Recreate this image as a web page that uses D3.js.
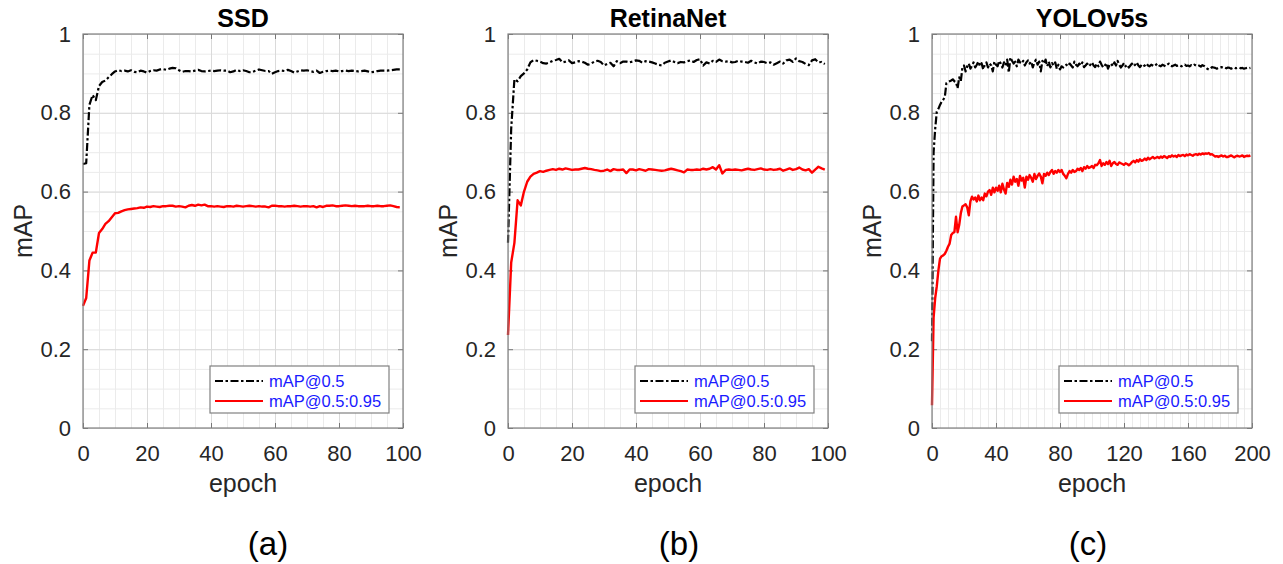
<!DOCTYPE html>
<html>
<head>
<meta charset="utf-8">
<script src="https://cdn.jsdelivr.net/npm/d3@7"></script>
<style>
  body { margin: 0; background: #fff; }
  svg { display: block; font-family: "Liberation Sans", Arial, sans-serif; }
</style>
</head>
<body>
<svg width="1283" height="564"></svg>
<script>
(function (d3) {
  'use strict';

  var svg = d3.select('svg');

  // labels
  var panelTitles = ['SSD', 'RetinaNet', 'YOLOv5s'];
  var panelCaptions = ['(a)', '(b)', '(c)'];
  var seriesNames = ['mAP@0.5', 'mAP@0.5:0.95'];
  var yTicks = [0, 0.2, 0.4, 0.6, 0.8, 1];
  var yTickLabels = ['0', '0.2', '0.4', '0.6', '0.8', '1'];
  var xTicks100 = [0, 20, 40, 60, 80, 100];
  var xTicks200 = [0, 40, 80, 120, 160, 200];

  // SSD, epochs 0..99
  var ssdMap50 = [
    .670,.672,.820,.845,.832,.868,.878,.882,.890,.898,
    .905,.908,.906,.907,.905,.908,.904,.903,.907,.905,
    .902,.906,.908,.907,.910,.911,.909,.912,.914,.913,
    .908,.904,.906,.906,.905,.907,.909,.906,.905,.906,
    .907,.906,.907,.908,.907,.907,.903,.905,.909,.906,
    .908,.906,.903,.904,.907,.910,.908,.906,.906,.899,
    .903,.906,.907,.906,.909,.906,.902,.905,.908,.907,
    .908,.906,.904,.907,.901,.904,.906,.907,.906,.907,
    .905,.906,.907,.906,.907,.906,.905,.906,.907,.905,
    .903,.904,.906,.907,.907,.907,.908,.909,.910,.910
  ];
  var ssdMap5095 = [
    .310,.330,.425,.445,.445,.495,.505,.518,.525,.535,
    .545,.546,.550,.553,.555,.556,.557,.558,.560,.559,
    .562,.561,.563,.562,.561,.563,.563,.564,.564,.562,
    .563,.562,.560,.564,.566,.564,.567,.565,.567,.563,
    .563,.562,.563,.562,.561,.563,.563,.562,.564,.563,
    .562,.563,.564,.563,.562,.563,.562,.562,.560,.564,
    .564,.563,.563,.562,.563,.563,.564,.563,.562,.563,
    .563,.562,.563,.560,.563,.561,.564,.564,.565,.563,
    .563,.564,.565,.564,.563,.564,.563,.563,.563,.564,
    .563,.563,.564,.563,.563,.564,.565,.563,.561,.560
  ];

  // RetinaNet, epochs 0..99
  var retinaMap50 = [
    .470,.760,.885,.880,.893,.900,.910,.928,.934,.932,
    .930,.926,.925,.928,.932,.934,.937,.928,.930,.933,
    .926,.928,.931,.930,.927,.922,.925,.930,.932,.929,
    .920,.924,.927,.918,.931,.926,.930,.930,.928,.930,
    .933,.932,.927,.931,.930,.928,.925,.922,.920,.927,
    .930,.933,.929,.926,.929,.928,.931,.933,.929,.934,
    .936,.920,.928,.925,.932,.929,.935,.931,.930,.931,
    .928,.929,.932,.930,.929,.927,.932,.928,.925,.930,
    .929,.926,.928,.922,.926,.930,.925,.933,.935,.929,
    .938,.931,.929,.924,.921,.933,.936,.928,.929,.924
  ];
  var retinaMap5095 = [
    .236,.420,.470,.578,.565,.600,.625,.638,.645,.648,
    .652,.650,.653,.655,.657,.655,.658,.656,.659,.657,
    .655,.656,.656,.658,.660,.658,.657,.655,.654,.652,
    .653,.656,.652,.657,.655,.655,.656,.647,.656,.656,
    .654,.657,.655,.653,.657,.656,.655,.654,.653,.654,
    .656,.658,.656,.654,.652,.649,.656,.655,.655,.656,
    .655,.658,.656,.658,.662,.656,.667,.646,.655,.656,
    .655,.656,.655,.654,.656,.658,.656,.655,.657,.659,
    .656,.655,.657,.655,.656,.658,.653,.656,.659,.655,
    .657,.661,.656,.654,.657,.648,.656,.663,.659,.656
  ];

  // YOLOv5s, epochs 0..199
  var yoloMap50 = [
    .220,.700,.760,.803,.810,.820,.828,.833,.840,.875,
    .878,.880,.882,.885,.880,.878,.862,.890,.880,.915,
    .920,.905,.918,.925,.912,.920,.928,.915,.922,.930,
    .918,.926,.910,.922,.928,.915,.925,.920,.905,.930,
    .922,.918,.932,.925,.915,.928,.920,.935,.902,.940,
    .932,.925,.930,.918,.935,.928,.925,.932,.920,.928,
    .933,.925,.930,.915,.928,.935,.922,.930,.905,.932,
    .925,.935,.918,.930,.915,.926,.920,.928,.912,.922,
    .910,.918,.915,.920,.922,.918,.925,.920,.915,.930,
    .922,.918,.925,.920,.928,.916,.920,.925,.918,.922,
    .928,.920,.916,.925,.918,.930,.922,.915,.920,.926,
    .912,.922,.925,.918,.928,.920,.932,.922,.915,.920,
    .926,.918,.922,.915,.920,.925,.918,.922,.928,.920,
    .916,.922,.918,.920,.925,.920,.918,.922,.920,.918,
    .922,.925,.920,.918,.922,.920,.918,.922,.925,.920,
    .918,.920,.922,.919,.921,.920,.918,.920,.922,.919,
    .920,.918,.921,.919,.922,.920,.918,.920,.917,.921,
    .919,.916,.912,.910,.913,.916,.915,.914,.912,.914,
    .915,.916,.914,.915,.913,.915,.914,.912,.914,.915,
    .913,.914,.915,.913,.914,.912,.913,.914,.913,.914
  ];
  var yoloMap5095 = [
    .058,.280,.330,.360,.400,.430,.436,.438,.442,.450,
    .460,.468,.490,.495,.497,.536,.497,.515,.545,.562,
    .565,.568,.560,.540,.575,.587,.580,.585,.575,.590,
    .578,.585,.578,.595,.588,.600,.604,.592,.610,.598,
    .610,.602,.615,.598,.620,.605,.595,.622,.612,.630,
    .618,.638,.625,.632,.615,.640,.628,.635,.610,.638,
    .630,.642,.635,.625,.645,.632,.640,.646,.638,.621,
    .645,.640,.648,.642,.650,.655,.645,.652,.648,.655,
    .650,.655,.645,.640,.634,.645,.652,.648,.655,.650,
    .652,.658,.655,.660,.652,.662,.658,.665,.660,.662,
    .665,.660,.668,.667,.672,.680,.665,.672,.668,.675,
    .670,.678,.665,.672,.675,.670,.668,.674,.672,.670,
    .668,.672,.670,.667,.670,.675,.678,.674,.680,.676,
    .682,.678,.680,.684,.680,.686,.682,.685,.688,.684,
    .686,.688,.685,.689,.686,.690,.688,.685,.690,.688,
    .692,.689,.691,.688,.693,.690,.692,.693,.690,.694,
    .692,.695,.693,.691,.694,.695,.693,.696,.694,.697,
    .695,.697,.696,.698,.694,.695,.692,.689,.690,.688,
    .690,.692,.689,.691,.688,.688,.690,.692,.689,.687,
    .690,.691,.689,.690,.692,.688,.690,.691,.690,.692
  ];

  var panels = [
    { left: 83,  xMax: 100, xTicks: xTicks100, series: [ssdMap50, ssdMap5095], capX: 268 },
    { left: 508, xMax: 100, xTicks: xTicks100, series: [retinaMap50, retinaMap5095], capX: 679 },
    { left: 932, xMax: 200, xTicks: xTicks200, series: [yoloMap50, yoloMap5095], capX: 1088 }
  ];

  var plotW = 320;
  var plotH = 394;
  var top = 34;
  var textColor = '#262626';
  var lineColors = ['#000000', '#ff0000'];
  var lineDash = ['8,2.5,2.5,2.5', null];

  function styleTicks(g, size) {
    g.select('.domain').remove();
    g.attr('font-family', null).attr('font-size', null);
    g.selectAll('text').attr('fill', textColor).style('font-size', size + 'px');
  }

  panels.forEach(function (p, k) {
    var x = d3.scaleLinear().domain([0, p.xMax]).range([0, plotW]);
    var y = d3.scaleLinear().domain([0, 1]).range([plotH, 0]);

    var g = svg.append('g').attr('transform', 'translate(' + p.left + ',' + top + ')');

    // minor grid
    g.append('g')
        .attr('transform', 'translate(0,' + plotH + ')')
        .call(d3.axisBottom(x).tickValues(d3.range(0, p.xMax + 1, 5)).tickSize(-plotH).tickFormat(''))
        .call(function (a) { a.select('.domain').remove(); a.selectAll('line').attr('stroke', '#ebebeb'); });
    g.append('g')
        .call(d3.axisLeft(y).tickValues(d3.range(0, 1.0001, 0.05)).tickSize(-plotW).tickFormat(''))
        .call(function (a) { a.select('.domain').remove(); a.selectAll('line').attr('stroke', '#ebebeb'); });

    // major grid
    g.append('g')
        .attr('transform', 'translate(0,' + plotH + ')')
        .call(d3.axisBottom(x).tickValues(p.xTicks).tickSize(-plotH).tickFormat(''))
        .call(function (a) { a.select('.domain').remove(); a.selectAll('line').attr('stroke', '#dadada'); });
    g.append('g')
        .call(d3.axisLeft(y).tickValues(yTicks).tickSize(-plotW).tickFormat(''))
        .call(function (a) { a.select('.domain').remove(); a.selectAll('line').attr('stroke', '#dadada'); });

    // inward ticks on all sides
    g.append('g')
        .attr('transform', 'translate(0,' + plotH + ')')
        .call(d3.axisBottom(x).tickValues(p.xTicks).tickSize(-5).tickPadding(17))
        .call(function (a) { styleTicks(a, 22); a.selectAll('line').attr('stroke', '#777'); });
    g.append('g')
        .call(d3.axisTop(x).tickValues(p.xTicks).tickSize(-5).tickFormat(''))
        .call(function (a) { a.select('.domain').remove(); a.selectAll('line').attr('stroke', '#777'); });
    g.append('g')
        .call(d3.axisLeft(y).tickValues(yTicks).tickSize(-5).tickPadding(12)
          .tickFormat(function (d, i) { return yTickLabels[i]; }))
        .call(function (a) { styleTicks(a, 22); a.selectAll('line').attr('stroke', '#777'); });
    g.append('g')
        .attr('transform', 'translate(' + plotW + ',0)')
        .call(d3.axisRight(y).tickValues(yTicks).tickSize(-5).tickFormat(''))
        .call(function (a) { a.select('.domain').remove(); a.selectAll('line').attr('stroke', '#777'); });

    // lines
    p.series.forEach(function (vals, s) {
      var line = d3.line()
          .x(function (d, i) { return x(i); })
          .y(function (d) { return y(d); });
      g.append('path')
          .datum(vals)
          .attr('fill', 'none')
          .attr('stroke', lineColors[s])
          .attr('stroke-width', s === 0 ? 2.2 : 2.4)
          .attr('stroke-dasharray', lineDash[s])
          .attr('stroke-linejoin', 'round')
          .attr('d', line);
    });

    // box
    g.append('rect')
        .attr('width', plotW).attr('height', plotH)
        .attr('fill', 'none').attr('stroke', '#808080').attr('stroke-width', 1.2);

    // legend
    var lg = g.append('g').attr('transform', 'translate(' + (plotW - 14 - 179) + ',' + (plotH - 15 - 47) + ')');
    lg.append('rect')
        .attr('width', 179).attr('height', 47)
        .attr('fill', '#fff').attr('stroke', '#808080').attr('stroke-width', 1.2);
    seriesNames.forEach(function (name, s) {
      var ly = 15 + s * 20;
      lg.append('line')
          .attr('x1', 5).attr('x2', 53).attr('y1', ly).attr('y2', ly)
          .attr('stroke', lineColors[s]).attr('stroke-width', 2.2)
          .attr('stroke-dasharray', lineDash[s]);
      lg.append('text')
          .attr('x', 59).attr('y', ly)
          .attr('dy', '0.35em')
          .attr('fill', '#1a1aff')
          .style('font-size', '16.5px')
          .text(name);
    });

    // title and axis labels
    g.append('text')
        .attr('x', plotW / 2).attr('y', -7)
        .attr('text-anchor', 'middle')
        .attr('fill', '#000')
        .style('font-size', '25px').style('font-weight', 'bold')
        .text(panelTitles[k]);
    g.append('text')
        .attr('transform', 'translate(-51,' + (plotH / 2) + ') rotate(-90)')
        .attr('text-anchor', 'middle')
        .attr('fill', textColor)
        .style('font-size', '25px')
        .text('mAP');
    g.append('text')
        .attr('x', plotW / 2).attr('y', plotH + 64)
        .attr('text-anchor', 'middle')
        .attr('fill', textColor)
        .style('font-size', '25px')
        .text('epoch');

    svg.append('text')
        .attr('x', p.capX).attr('y', 555)
        .attr('text-anchor', 'middle')
        .attr('fill', '#000')
        .style('font-size', '33px')
        .text(panelCaptions[k]);
  });

}(d3));
</script>
</body>
</html>
